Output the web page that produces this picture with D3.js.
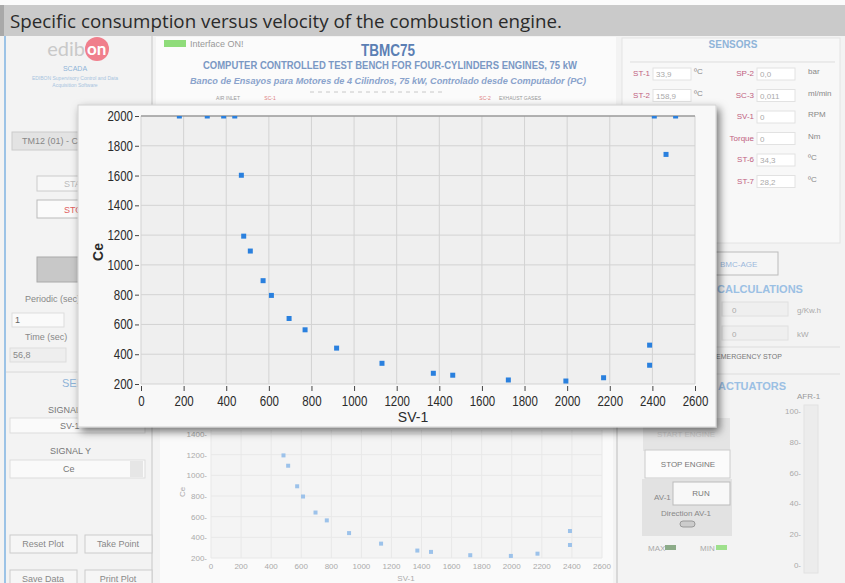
<!DOCTYPE html>
<html lang="en">
<head>
    <meta charset="UTF-8">
    <title>Specific consumption versus velocity</title>
    <script src="https://d3js.org/d3.v7.min.js"></script>
</head>
<body style="margin: 0px; background: #f2f2f2;">

    <script>

        // data (SV-1 in RPM, Ce in g/kW.h)
        var svSpeed = [180, 311, 388, 440, 471, 482, 513, 573, 612, 695, 770, 918,
            1131, 1372, 1463, 1724, 1994, 2171, 2387, 2387, 2409, 2464, 2509];
        var ceValues = [2000, 2000, 2000, 2000, 1602, 1193, 1093, 894, 795, 640, 564, 441,
            339, 272, 259, 227, 220, 242, 461, 326, 2000, 1742, 2000];
        var xTicks = [0, 200, 400, 600, 800, 1000, 1200, 1400, 1600, 1800, 2000, 2200, 2400, 2600];
        var yTicks = [200, 400, 600, 800, 1000, 1200, 1400, 1600, 1800, 2000];
        var bgYTicks = [200, 400, 600, 800, 1000, 1200, 1400];
        var sensorRows = [['ST-1', '33,9', 'ºC', 'SP-2', '0,0', 'bar'],
            ['ST-2', '158,9', 'ºC', 'SC-3', '0,011', 'ml/min'],
            ['', '', '', 'SV-1', '0', 'RPM'],
            ['', '', '', 'Torque', '0', 'Nm'],
            ['', '', '', 'ST-6', '34,3', 'ºC'],
            ['', '', '', 'ST-7', '28,2', 'ºC']];
        var sliderTicks = [0, 20, 40, 60, 80, 100];

        var width = 845;
        var height = 583;
        var narrow = '"Liberation Sans Narrow", "Liberation Sans", sans-serif';
        var points = svSpeed.map(function (d, i) { return {sv: d, ce: ceValues[i]}; });

        var svg = d3.select('body').append('svg')
                .attr('width', width)
                .attr('height', height)
                .style('display', 'block')
                .style('font-family', narrow);

        var defs = svg.append('defs');
        defs.append('filter').attr('id', 'shadow')
                .attr('x', '-5%').attr('y', '-5%').attr('width', '115%').attr('height', '120%')
                .append('feDropShadow')
                .attr('dx', 3).attr('dy', 4).attr('stdDeviation', 4)
                .attr('flood-color', '#000').attr('flood-opacity', 0.55);
        defs.append('clipPath').attr('id', 'plotClip')
                .append('rect').attr('x', 138).attr('y', 116).attr('width', 560).attr('height', 269);
        defs.append('clipPath').attr('id', 'bgClip')
                .append('rect').attr('x', 205).attr('y', 428).attr('width', 405).attr('height', 135);

        // ---------- background screen ----------
        svg.append('rect').attr('width', width).attr('height', 8).attr('fill', '#fbfbfb');
        svg.append('rect').attr('x', 0).attr('y', 36).attr('width', width).attr('height', height - 36)
                .attr('fill', '#f3f3f3');
        svg.append('rect').attr('x', 4).attr('y', 36).attr('width', 2).attr('height', height - 36)
                .attr('fill', '#9cc3e6');

        // left panel
        var left = svg.append('g').attr('fill', '#888').style('font-size', '9px');
        left.append('circle').attr('cx', 97).attr('cy', 49).attr('r', 12).attr('fill', '#f07f8c');
        left.append('text').attr('x', 85).attr('y', 56).attr('text-anchor', 'end').text('edib')
                .attr('fill', '#c9c9c9')
                .style('font-family', 'Lato, sans-serif').style('font-size', '20px');
        left.append('text').attr('x', 87).attr('y', 55).text('on').attr('fill', '#fff')
                .style('font-family', 'Lato, sans-serif').style('font-size', '17px').style('font-weight', 'bold');
        left.append('text').attr('x', 75).attr('y', 71).attr('text-anchor', 'middle').text('SCADA')
                .attr('fill', '#8fb4d8').style('font-size', '7px');
        left.append('text').attr('x', 75).attr('y', 80).attr('text-anchor', 'middle')
                .text('EDIBON Supervisory Control and Data').attr('fill', '#a8c4e0').style('font-size', '5px');
        left.append('text').attr('x', 75).attr('y', 87).attr('text-anchor', 'middle')
                .text('Acquisition Software').attr('fill', '#a8c4e0').style('font-size', '5px');
        left.append('line').attr('x1', 152).attr('x2', 152).attr('y1', 36).attr('y2', 583)
                .attr('stroke', '#ddd').attr('stroke-width', 2);
        left.append('rect').attr('x', 12).attr('y', 132).attr('width', 80).attr('height', 18)
                .attr('fill', '#e3e3e3').attr('stroke', '#ccc');
        left.append('text').attr('x', 22).attr('y', 144).text('TM12 (01) - C');
        left.append('rect').attr('x', 37).attr('y', 176).attr('width', 60).attr('height', 15)
                .attr('fill', '#f7f7f7').attr('stroke', '#ccc');
        left.append('text').attr('x', 64).attr('y', 187).text('STA').attr('fill', '#bbb');
        left.append('rect').attr('x', 37).attr('y', 200).attr('width', 60).attr('height', 18)
                .attr('fill', '#fbfbfb').attr('stroke', '#bbb');
        left.append('text').attr('x', 64).attr('y', 213).text('STO').attr('fill', '#e06060');
        left.append('rect').attr('x', 37).attr('y', 257).attr('width', 60).attr('height', 25)
                .attr('fill', '#c8c8c8').attr('stroke', '#aaa');
        left.append('text').attr('x', 25).attr('y', 302).text('Periodic (sec)');
        left.append('rect').attr('x', 12).attr('y', 313).attr('width', 52).attr('height', 14)
                .attr('fill', '#fafafa').attr('stroke', '#ddd');
        left.append('text').attr('x', 15).attr('y', 323).text('1').attr('fill', '#666');
        left.append('text').attr('x', 25).attr('y', 340).text('Time (sec)');
        left.append('rect').attr('x', 10).attr('y', 348).attr('width', 56).attr('height', 14)
                .attr('fill', '#eee').attr('stroke', '#ddd');
        left.append('text').attr('x', 13).attr('y', 358).text('56,8');
        left.append('line').attr('x1', 6).attr('x2', 152).attr('y1', 372).attr('y2', 372)
                .attr('stroke', '#d8d8d8');
        left.append('text').attr('x', 62).attr('y', 387).text('SENSORS').attr('fill', '#8fb4d8')
                .style('font-size', '11px');
        left.append('text').attr('x', 48).attr('y', 413).text('SIGNAL X').attr('fill', '#777');
        left.append('rect').attr('x', 10).attr('y', 418).attr('width', 135).attr('height', 15)
                .attr('fill', '#fafafa').attr('stroke', '#ddd');
        left.append('text').attr('x', 60).attr('y', 429).text('SV-1').attr('fill', '#777');
        left.append('text').attr('x', 50).attr('y', 454).text('SIGNAL Y').attr('fill', '#777');
        left.append('rect').attr('x', 10).attr('y', 460).attr('width', 135).attr('height', 18)
                .attr('fill', '#fafafa').attr('stroke', '#ddd');
        left.append('rect').attr('x', 130).attr('y', 461).attr('width', 13).attr('height', 16)
                .attr('fill', '#e6e6e6');
        left.append('text').attr('x', 63).attr('y', 472).text('Ce').attr('fill', '#777');
        [['Reset Plot', 10, 535], ['Take Point', 85, 535], ['Save Data', 10, 570], ['Print Plot', 85, 570]]
                .forEach(function (b) {
                    left.append('rect').attr('x', b[1]).attr('y', b[2]).attr('width', 67).attr('height', 18)
                            .attr('fill', '#f6f6f6').attr('stroke', '#ccc');
                    left.append('text').attr('x', b[1] + 33).attr('y', b[2] + 12)
                            .attr('text-anchor', 'middle').text(b[0]).attr('fill', '#888');
                });

        // header panel
        var head = svg.append('g');
        head.append('rect').attr('x', 156).attr('y', 37).attr('width', 460).attr('height', 72)
                .attr('fill', '#fbfbfb');
        head.append('rect').attr('x', 164).attr('y', 40).attr('width', 22).attr('height', 7)
                .attr('fill', '#8fdc7a');
        head.append('text').attr('x', 190).attr('y', 47).text('Interface ON!')
                .attr('fill', '#999').style('font-size', '9px');
        head.append('text').attr('x', 361).attr('y', 56).text('TBMC75')
                .attr('textLength', 54).attr('lengthAdjust', 'spacingAndGlyphs')
                .attr('fill', '#5b7fb4').style('font-size', '16px').style('font-weight', 'bold');
        head.append('text').attr('x', 203).attr('y', 69)
                .attr('textLength', 374).attr('lengthAdjust', 'spacingAndGlyphs')
                .text('COMPUTER CONTROLLED TEST BENCH FOR FOUR-CYLINDERS ENGINES, 75 kW')
                .attr('fill', '#7a98c4').style('font-size', '10px').style('font-weight', 'bold');
        head.append('text').attr('x', 190).attr('y', 84)
                .attr('textLength', 396).attr('lengthAdjust', 'spacingAndGlyphs')
                .text('Banco de Ensayos para Motores de 4 Cilindros, 75 kW, Controlado desde Computador (PC)')
                .attr('fill', '#8aa3cc').style('font-size', '9.2px').style('font-weight', 'bold')
                .style('font-style', 'italic');
        head.append('line').attr('x1', 310).attr('x2', 445).attr('y1', 92).attr('y2', 92)
                .attr('stroke', '#c8c8c8').attr('stroke-dasharray', '4,4');
        [['AIR INLET', 228, '#999'], ['SC-1', 270, '#e08080'], ['SC-2', 485, '#e08080'],
            ['EXHAUST GASES', 520, '#999']].forEach(function (t) {
            head.append('text').attr('x', t[1]).attr('y', 100).attr('text-anchor', 'middle')
                    .text(t[0]).attr('fill', t[2]).style('font-size', '5px');
        });

        // sensors panel
        var sens = svg.append('g').style('font-size', '8px');
        sens.append('rect').attr('x', 622).attr('y', 38).attr('width', 218).attr('height', 205)
                .attr('fill', '#f8f8f8').attr('stroke', '#e4e4e4');
        sens.append('text').attr('x', 733).attr('y', 48).attr('text-anchor', 'middle').text('SENSORS')
                .attr('fill', '#8fb4d8').style('font-size', '10px').style('font-weight', 'bold');
        sens.append('line').attr('x1', 630).attr('x2', 835).attr('y1', 62).attr('y2', 62).attr('stroke', '#ddd');
        sensorRows.forEach(function (r, i) {
            var yy = 73 + i * 21.5;
            if (r[0] !== '') {
                sens.append('text').attr('x', 650).attr('y', yy + 3).attr('text-anchor', 'end')
                        .text(r[0]).attr('fill', '#c06080');
                sens.append('rect').attr('x', 653).attr('y', yy - 5).attr('width', 38).attr('height', 12)
                        .attr('fill', '#fff').attr('stroke', '#e2e2e2');
                sens.append('text').attr('x', 656).attr('y', yy + 4).text(r[1]).attr('fill', '#aaa');
                sens.append('text').attr('x', 694).attr('y', yy + 1).text(r[2]).attr('fill', '#888');
            }
            sens.append('text').attr('x', 754).attr('y', yy + 3).attr('text-anchor', 'end')
                    .text(r[3]).attr('fill', '#c06080');
            sens.append('rect').attr('x', 757).attr('y', yy - 5).attr('width', 38).attr('height', 12)
                    .attr('fill', '#fff').attr('stroke', '#e2e2e2');
            sens.append('text').attr('x', 760).attr('y', yy + 4).text(r[4]).attr('fill', '#aaa');
            sens.append('text').attr('x', 808).attr('y', yy + 1).text(r[5]).attr('fill', '#888');
        });

        // calculations / actuators panel
        var act = svg.append('g').style('font-size', '8px');
        act.append('line').attr('x1', 617).attr('x2', 617).attr('y1', 245).attr('y2', 583)
                .attr('stroke', '#d8d8d8').attr('stroke-width', 2);
        act.append('rect').attr('x', 714).attr('y', 252).attr('width', 64).attr('height', 23)
                .attr('fill', '#f5f5f5').attr('stroke', '#bbb');
        act.append('text').attr('x', 720).attr('y', 267).text('BMC-AGE').attr('fill', '#9bb8dc');
        act.append('text').attr('x', 717).attr('y', 293).text('CALCULATIONS')
                .attr('fill', '#9bc0e4').style('font-size', '11px').style('font-weight', 'bold');
        act.append('rect').attr('x', 722).attr('y', 302).attr('width', 66).attr('height', 14)
                .attr('fill', '#efefef').attr('stroke', '#e0e0e0');
        act.append('text').attr('x', 732).attr('y', 313).text('0').attr('fill', '#aaa');
        act.append('text').attr('x', 797).attr('y', 313).text('g/Kw.h').attr('fill', '#aaa');
        act.append('rect').attr('x', 722).attr('y', 326).attr('width', 66).attr('height', 14)
                .attr('fill', '#efefef').attr('stroke', '#e0e0e0');
        act.append('text').attr('x', 732).attr('y', 337).text('0').attr('fill', '#aaa');
        act.append('text').attr('x', 797).attr('y', 337).text('kW').attr('fill', '#aaa');
        act.append('line').attr('x1', 700).attr('x2', 840).attr('y1', 347).attr('y2', 347).attr('stroke', '#ddd');
        act.append('text').attr('x', 716).attr('y', 359).text('EMERGENCY STOP').attr('fill', '#777')
                .style('font-size', '7px');
        act.append('line').attr('x1', 700).attr('x2', 840).attr('y1', 374).attr('y2', 374).attr('stroke', '#ddd');
        act.append('text').attr('x', 718).attr('y', 390).text('ACTUATORS')
                .attr('fill', '#9bc0e4').style('font-size', '11px').style('font-weight', 'bold');
        act.append('text').attr('x', 797).attr('y', 399).text('AFR-1').attr('fill', '#999');
        act.append('rect').attr('x', 804).attr('y', 405).attr('width', 14).attr('height', 168)
                .attr('fill', '#ececec').attr('stroke', '#e2e2e2');
        var slider = d3.scaleLinear().domain([0, 100]).range([565, 411]);
        act.selectAll('text.slider').data(sliderTicks).enter().append('text')
                .attr('class', 'slider')
                .attr('x', 801).attr('y', function (d) { return slider(d) + 3; })
                .attr('text-anchor', 'end').attr('fill', '#aaa')
                .text(function (d) { return d + '-'; });
        act.append('rect').attr('x', 643).attr('y', 418).attr('width', 87).attr('height', 33)
                .attr('fill', '#e4e4e4');
        act.append('text').attr('x', 686).attr('y', 437).attr('text-anchor', 'middle')
                .text('START ENGINE').attr('fill', '#ccc');
        act.append('rect').attr('x', 645).attr('y', 450).attr('width', 85).attr('height', 28)
                .attr('fill', '#fbfbfb').attr('stroke', '#ccc');
        act.append('text').attr('x', 688).attr('y', 467).attr('text-anchor', 'middle')
                .text('STOP ENGINE').attr('fill', '#777');
        act.append('rect').attr('x', 642).attr('y', 479).attr('width', 90).attr('height', 57)
                .attr('fill', '#e2e2e2');
        act.append('rect').attr('x', 673).attr('y', 482).attr('width', 57).attr('height', 23)
                .attr('fill', '#f8f8f8').attr('stroke', '#bbb');
        act.append('text').attr('x', 701).attr('y', 496).attr('text-anchor', 'middle').text('RUN').attr('fill', '#777');
        act.append('text').attr('x', 654).attr('y', 500).text('AV-1').attr('fill', '#888');
        act.append('text').attr('x', 686).attr('y', 516).attr('text-anchor', 'middle')
                .text('Direction AV-1').attr('fill', '#888');
        act.append('rect').attr('x', 680).attr('y', 521).attr('width', 15).attr('height', 6).attr('rx', 3)
                .attr('fill', '#ccc').attr('stroke', '#999');
        act.append('text').attr('x', 648).attr('y', 551).text('MAX').attr('fill', '#aaa');
        act.append('rect').attr('x', 665).attr('y', 545).attr('width', 11).attr('height', 5).attr('fill', '#8cab88');
        act.append('text').attr('x', 700).attr('y', 551).text('MIN').attr('fill', '#aaa');
        act.append('rect').attr('x', 716).attr('y', 545).attr('width', 11).attr('height', 5).attr('fill', '#9ee08c');

        // faded chart behind the popup
        var bx = d3.scaleLinear().domain([0, 2600]).range([211, 602]);
        var by = d3.scaleLinear().domain([200, 1400]).range([558, 434]);
        var bg = svg.append('g');
        bg.append('rect').attr('x', 160).attr('y', 410).attr('width', 453).attr('height', 173).attr('fill', '#fafafa');
        bg.append('rect').attr('x', 211).attr('y', 430).attr('width', 391).attr('height', 128).attr('fill', '#f4f4f4');
        bg.selectAll('line.bgx').data(xTicks).enter().append('line').attr('class', 'bgx')
                .attr('x1', bx).attr('x2', bx).attr('y1', 430).attr('y2', 558).attr('stroke', '#e8e8e8');
        bg.selectAll('line.bgy').data(bgYTicks).enter().append('line').attr('class', 'bgy')
                .attr('x1', 211).attr('x2', 602).attr('y1', by).attr('y2', by).attr('stroke', '#e8e8e8');
        bg.selectAll('text.bgy').data(bgYTicks).enter().append('text').attr('class', 'bgy')
                .attr('x', 207).attr('y', function (d) { return by(d) + 3; })
                .attr('text-anchor', 'end').attr('fill', '#aaa').style('font-size', '8px')
                .text(function (d) { return d + '-'; });
        bg.selectAll('text.bgx').data(xTicks).enter().append('text').attr('class', 'bgx')
                .attr('x', bx).attr('y', 569)
                .attr('text-anchor', 'middle').attr('fill', '#aaa').style('font-size', '8px')
                .text(function (d) { return d; });
        bg.append('text').attr('transform', 'translate(185,492) rotate(-90)').attr('text-anchor', 'middle')
                .text('Ce').attr('fill', '#aaa').style('font-size', '8px');
        bg.append('text').attr('x', 406).attr('y', 581).attr('text-anchor', 'middle')
                .text('SV-1').attr('fill', '#aaa').style('font-size', '8px');
        bg.append('g').attr('clip-path', 'url(#bgClip)')
                .selectAll('rect').data(points).enter().append('rect')
                .attr('x', function (d) { return bx(d.sv) - 2; })
                .attr('y', function (d) { return by(d.ce) - 2; })
                .attr('width', 4).attr('height', 4)
                .attr('fill', '#9cc2ea');

        // title strip
        svg.append('rect').attr('x', 0).attr('y', 5).attr('width', width).attr('height', 31)
                .attr('fill', '#cacaca');
        svg.append('rect').attr('x', 0).attr('y', 5).attr('width', 4).attr('height', 31)
                .attr('fill', '#a9a9a9');
        svg.append('text').attr('x', 10).attr('y', 28)
                .attr('textLength', 552).attr('lengthAdjust', 'spacingAndGlyphs')
                .text('Specific consumption versus velocity of the combustion engine.')
                .attr('fill', '#2a2a2a')
                .style('font-family', '"Open Sans", sans-serif').style('font-size', '18px');

        // ---------- popup chart ----------
        var x = d3.scaleLinear().domain([0, 2600]).range([141, 695]);
        var y = d3.scaleLinear().domain([200, 2000]).range([384, 116]);

        var pop = svg.append('g');
        pop.append('rect').attr('x', 78).attr('y', 105).attr('width', 638).attr('height', 322)
                .attr('fill', '#f8f8f8').attr('stroke', '#d0d0d0')
                .attr('filter', 'url(#shadow)');
        pop.append('rect').attr('x', x(0)).attr('y', y(2000))
                .attr('width', x(2600) - x(0)).attr('height', y(200) - y(2000))
                .attr('fill', '#efefef');

        pop.selectAll('line.gx').data(xTicks).enter().append('line').attr('class', 'gx')
                .attr('x1', x).attr('x2', x).attr('y1', y(2000)).attr('y2', y(200))
                .attr('stroke', '#d3d3d3');
        pop.selectAll('line.gy').data(yTicks).enter().append('line').attr('class', 'gy')
                .attr('x1', x(0)).attr('x2', x(2600)).attr('y1', y).attr('y2', y)
                .attr('stroke', function (d) { return d === 2000 ? '#9a9a9a' : '#d3d3d3'; })
                .attr('stroke-width', function (d) { return d === 2000 ? 1.5 : 1; });

        // the software draws its numbers in a tall narrow face
        function styleTicks(g) {
            g.select('.domain').remove();
            g.selectAll('text').attr('fill', '#2b2b2b')
                    .style('font-family', narrow).style('font-size', '14px')
                    .attr('textLength', function (d) { return String(d).length * 6.4; })
                    .attr('lengthAdjust', 'spacingAndGlyphs');
            g.selectAll('line').attr('stroke', '#444');
        }

        var yAxis = d3.axisLeft(y).tickValues(yTicks).tickFormat(d3.format('d'))
                .tickSize(4).tickPadding(2);
        pop.append('g').attr('transform', 'translate(' + (x(0) - 2) + ',0)').call(yAxis)
                .call(styleTicks);
        var xAxis = d3.axisBottom(x).tickValues(xTicks).tickFormat(d3.format('d'))
                .tickSize(5).tickPadding(5);
        pop.append('g').attr('transform', 'translate(0,' + (y(200) + 2) + ')').call(xAxis)
                .call(styleTicks);

        pop.append('text').attr('transform', 'translate(103,252) rotate(-90)')
                .attr('text-anchor', 'middle').text('Ce')
                .attr('fill', '#2b2b2b').style('font-size', '14px').style('font-weight', 'bold');
        pop.append('text').attr('x', 413).attr('y', 422).attr('text-anchor', 'middle').text('SV-1')
                .attr('fill', '#2b2b2b').style('font-size', '14px');

        pop.append('g').attr('clip-path', 'url(#plotClip)')
                .selectAll('rect').data(points).enter().append('rect')
                .attr('x', function (d) { return x(d.sv) - 2.5; })
                .attr('y', function (d) { return y(d.ce) - 2.5; })
                .attr('width', 5).attr('height', 5)
                .attr('fill', '#2a80de');
    </script>
</body>
</html>
